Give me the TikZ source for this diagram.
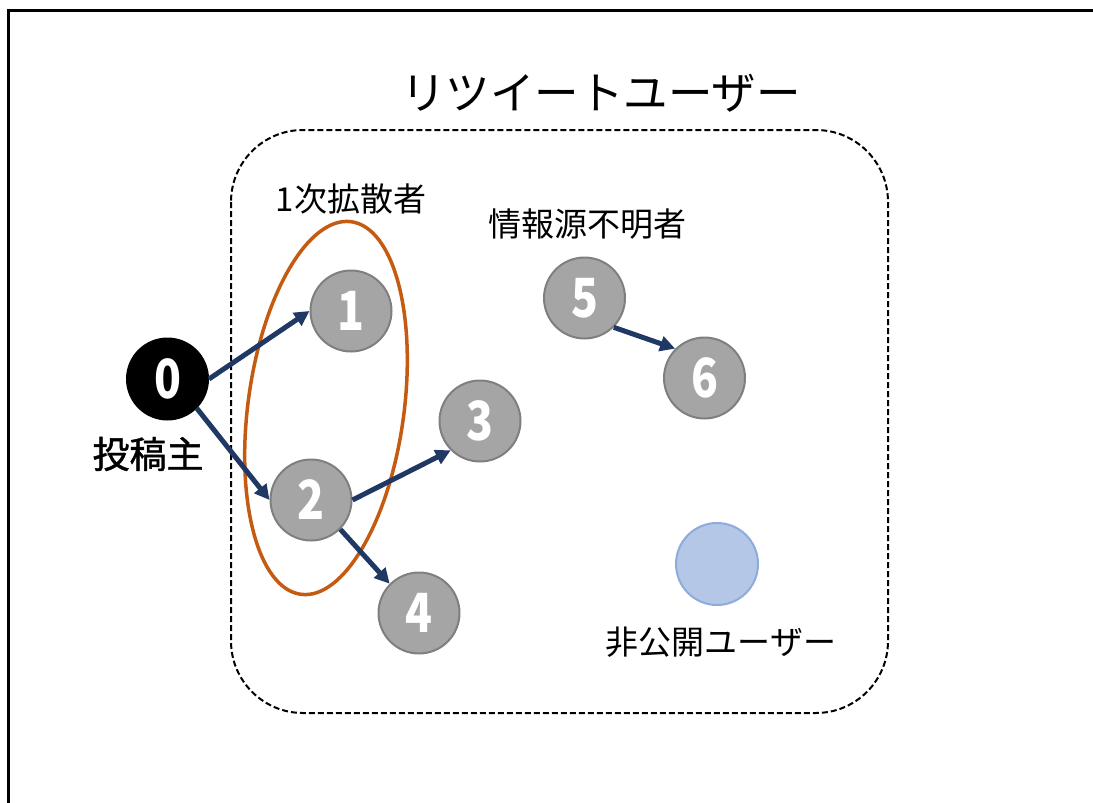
\documentclass[tikz,border=0pt]{standalone}
\usepackage{fontspec}
\usepackage{graphicx}
\setmainfont{Noto Sans CJK JP}
\newfontfamily\medfont[FakeBold=1.2]{Noto Sans CJK JP}
\usetikzlibrary{arrows.meta}
\definecolor{navy}{HTML}{203864}
\definecolor{nodegray}{HTML}{A5A5A5}
\definecolor{nodeedge}{HTML}{7F7F7F}
\definecolor{bluefill}{HTML}{B4C7E7}
\definecolor{blueedge}{HTML}{8FAADC}
\definecolor{orangeline}{HTML}{C55A11}
\newcommand{\digit}[1]{\scalebox{0.82}[1]{#1}}
\tikzset{
  user/.style={circle, minimum size=81pt, inner sep=0pt, fill=nodegray, draw=nodeedge, line width=2pt,
    text=white, font=\fontsize{54}{54}\selectfont\bfseries},
  poster/.style={user, fill=black, draw=black},
  hidden/.style={circle, minimum size=82pt, inner sep=0pt, fill=bluefill, draw=blueedge, line width=2pt},
  link/.style={draw=navy, line width=5pt, -{Triangle[length=15pt,width=15pt]}},
  lbl/.style={inner sep=0pt, font=\fontsize{33}{33}\selectfont},
}
\begin{document}
\begin{tikzpicture}[x=1pt,y=-1pt]
\useasboundingbox (0,0) rectangle (1093,803);
\clip (0,0) rectangle (1093,803);
\draw[line width=3.5pt] (8.3,900) -- (8.3,10.7) -- (1200,10.7);
\draw[line width=2pt, dash pattern=on 6pt off 3pt, rounded corners=72pt] (231,130) rectangle (888,713);
\node[inner sep=0pt, font=\fontsize{44.5}{44.5}\selectfont] (title) at (601,93) {リツイートユーザー};
\node[lbl] (first) at (351,199) {1次拡散者};
\node[lbl] (unknown) at (587.5,224) {情報源不明者};
\node[lbl] (private) at (721,642) {非公開ユーザー};
\node[inner sep=0pt, font=\fontsize{37}{37}\medfont] (posterlbl) at (148,454) {投稿主};
\draw[orangeline, line width=3.5pt, rotate around={82.3:(326,408)}] (326,408) ellipse [x radius=188, y radius=78];
\node[poster] (n0) at (167.5,379) {\digit{0}};
\node[user] (n1) at (351,311) {\digit{1}};
\node[user] (n2) at (311,500) {\digit{2}};
\node[user] (n3) at (480,421) {\digit{3}};
\node[user] (n4) at (419,613) {\digit{4}};
\node[user] (n5) at (584.5,298) {\digit{5}};
\node[user] (n6) at (704.5,378) {\digit{6}};
\node[hidden] (n7) at (717,564) {};
\draw[link] (n0.east) -- (n1.west);
\draw[link] (n0.south east) -- (n2.west);
\draw[link] (n2.east) -- (n3.south west);
\draw[link] (n2.south east) -- (n4.north west);
\draw[link] (n5.south east) -- (n6.north west);
\end{tikzpicture}
\end{document}
